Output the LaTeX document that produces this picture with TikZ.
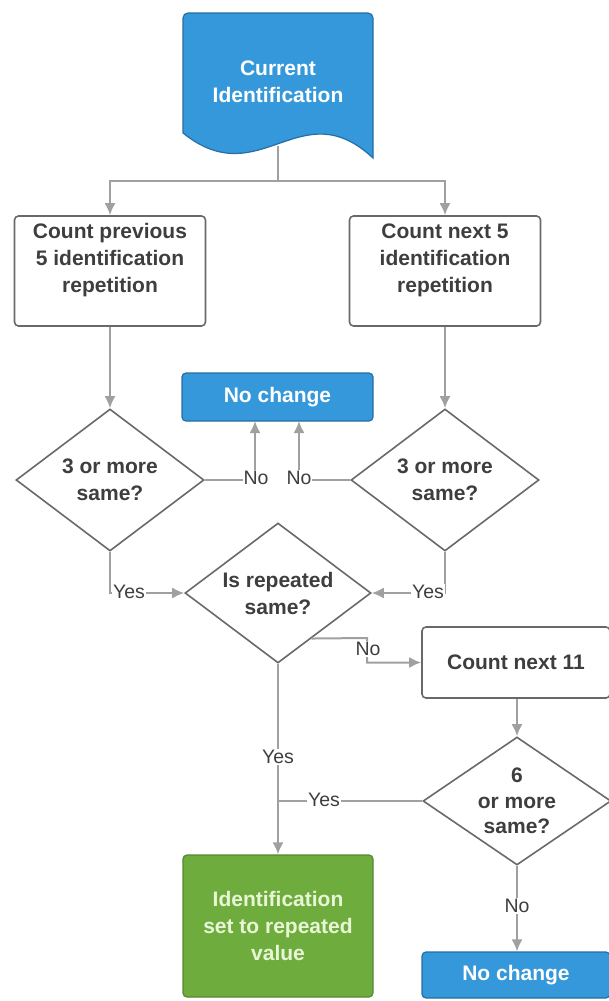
\documentclass[tikz,border=0pt]{standalone}
\usepackage{fontspec}
\setmainfont{Liberation Sans}
\usetikzlibrary{shapes.geometric,arrows.meta,calc}
\definecolor{boxblue}{RGB}{52,152,219}
\definecolor{blueedge}{RGB}{38,110,165}
\definecolor{boxgreen}{RGB}{110,172,62}
\definecolor{greenedge}{RGB}{84,136,50}
\definecolor{greentext}{RGB}{232,246,214}
\definecolor{edgegray}{RGB}{105,105,105}
\definecolor{linegray}{RGB}{160,160,160}
\definecolor{txtgray}{RGB}{62,62,62}
\begin{document}
\begin{tikzpicture}[x=1pt,y=-1pt,
  btext/.style={font=\fontsize{21}{27}\selectfont\bfseries},
  whitebox/.style={draw=edgegray,line width=1.6pt,rounded corners=4pt,fill=white,inner sep=0pt},
  bluebox/.style={draw=blueedge,line width=1.2pt,rounded corners=4pt,fill=boxblue,inner sep=0pt,text=white,btext},
  greenbox/.style={draw=greenedge,line width=1.2pt,rounded corners=4pt,fill=boxgreen,inner sep=0pt,text=greentext,btext,align=center},
  decision/.style={diamond,draw=edgegray,line width=1.6pt,fill=white,inner sep=0pt,align=center,text=txtgray,btext},
  plain/.style={text=txtgray,btext,align=center,inner sep=0pt},
  conn/.style={draw=linegray,line width=2pt,-{Latex[length=12pt,width=11pt]}},
  seg/.style={draw=linegray,line width=2pt},
  lab/.style={fill=white,inner sep=1pt,text=txtgray,font=\fontsize{19.5}{21}\selectfont}
]
\useasboundingbox (0,0) rectangle (608,1001);

% document shape
\path[fill=boxblue,draw=blueedge,line width=1.2pt]
  (183,133) [rounded corners=5pt] -- (183,13) -- (373,13) [sharp corners] -- (373,158)
  .. controls (300,90) and (260,195) .. (183,133) -- cycle;
\node[text=white,btext,align=center] (doc) at (278,82) {Current\\Identification};
\coordinate (docb) at (278,146);
\coordinate (split) at (278,181);

% process boxes
\node[whitebox,minimum width=191pt,minimum height=110pt] (lb) at (110,271) {};
\node[plain] (lbt) at (110,260) {Count previous\\5 identification\\repetition};
\node[whitebox,minimum width=191pt,minimum height=110pt] (rb) at (445,271) {};
\node[plain] (rbt) at (445,260) {Count next 5\\identification\\repetition};

\node[bluebox,minimum width=191pt,minimum height=48pt] (nc1) at (277.5,397) {No change};

\node[decision,minimum width=188pt,minimum height=142pt,aspect=1.32] (dL) at (110,480) {3 or more\\same?};
\node[decision,minimum width=188pt,minimum height=142pt,aspect=1.32] (dR) at (445,480) {3 or more\\same?};
\node[decision,minimum width=186pt,minimum height=140pt,aspect=1.32] (dM) at (278,593) {Is repeated\\same?};

\node[whitebox,minimum width=188pt,minimum height=71pt,text=txtgray,btext] (cn) at (516,662.5) {Count next 11};
\node[decision,minimum width=188pt,minimum height=128pt,aspect=1.47,font=\fontsize{21}{25.5}\selectfont\bfseries] (d6) at (517,801) {6\\or more\\same?};

\node[greenbox,minimum width=190pt,minimum height=142pt] (gr) at (278,926) {Identification\\set to repeated\\value};
\node[bluebox,minimum width=188pt,minimum height=46pt] (nc2) at (516,975) {No change};

% connectors
\draw[seg] (docb) -- (split);
\draw[conn] (split) -| (lb.north);
\draw[conn] (split) -| (rb.north);
\draw[conn] (lb.south) -- (dL.north);
\draw[conn] (rb.south) -- (dR.north);
\draw[conn] (dL.east) -- (255,480) -- (255,421);
\draw[conn] (dR.west) -- (299,480) -- (299,421);
\draw[conn] (dL.south) |- (dM.west);
\draw[conn] (dR.south) |- (dM.east);
\coordinate (mno) at ($(dM.east)!0.643!(dM.south)$);
\draw[conn] (mno) -- (367,638) -- (367,662.5) -- (cn.west);
\draw[conn] (cn.south -| d6.north) -- (d6.north);
\draw[conn] (d6.south) -- (d6.south |- nc2.north);
\draw[conn] (dM.south) -- (gr.north);
\draw[seg] (d6.west) -- (dM.south |- d6.west);

% labels
\node[lab] (noL) at (256,478) {No};
\node[lab] (noR) at (299,478) {No};
\node[lab] (yesL) at (129,592) {Yes};
\node[lab] (yesR) at (428,592) {Yes};
\node[lab] (noM) at (368,649) {No};
\node[lab] (yesM) at (278,757) {Yes};
\node[lab] (yes6) at (324,800) {Yes};
\node[lab] (no6) at (517,906) {No};
\end{tikzpicture}
\end{document}
